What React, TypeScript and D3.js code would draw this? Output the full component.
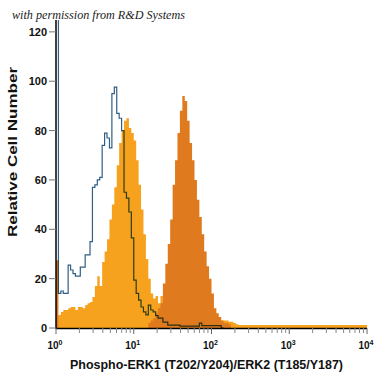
import React from 'react';
import * as d3 from 'd3';

// histogram channels: 32 bins per decade, 10^0 .. 10^4
const binsPerDecade = 32;
const yTicks = [0, 20, 40, 60, 80, 100, 120];
const xDecades = [0, 1, 2, 3, 4];

// open histogram (control), outline only
const controlCounts = [
  140, 14, 15, 14, 14, 25.5, 23.5, 22, 21, 21, 24.7, 24.7, 29.6, 29.6, 35, 57,
  58, 60, 61, 74, 79, 77, 73, 95, 97.6, 87, 85, 80, 55, 52.6, 47, 36.5,
  19.4, 14, 11.3, 8.5, 6.5, 5.3, 9.3, 7.3, 6.5, 5, 4, 4, 2.4, 2.4, 1.2, 1.2,
  1.2, 1.2, 1.2, 0.8, 0.8, 0.8, 0.8, 0.8, 0.8, 0.8, 0.8, 2, 1, 1, 1, 1,
  1, 1, 1, 1, 0,
];

// light orange filled histogram
const untreatedCounts = [
  5, 5.3, 6.5, 7.3, 7.3, 8, 8.5, 8.5, 7.3, 8.5, 8.5, 8, 9.3, 10, 10.5, 12.6,
  17, 21, 17, 26.7, 31, 36, 44, 50, 57, 66, 75, 80, 84, 85, 81, 79,
  76, 68, 58, 48, 38, 28, 20, 14, 12, 13, 10, 13, 11, 8, 7, 6,
  5, 5, 4, 4, 3, 3, 3, 3, 3, 3, 3, 3, 3, 3, 3, 3,
  3, 3, 3, 3, 3, 3, 3, 2.5, 2.5, 2, 1.5, 1.2, 1.2, 1.2, 1.2, 1.2,
  1.2, 1.2, 1.2, 1.2, 1.2, 1.2, 1.2, 1.2, 1.2, 1.2, 1.2, 1.2, 1.2, 1.2, 1.2, 1.2,
  1.2, 1.2, 1.2, 1.2, 1.2, 1.2, 1.2, 1.2, 1.2, 1.2, 1.2, 1.2, 1.2, 1.2, 1.2, 1.2,
  1.2, 1.2, 1.2, 1.2, 1.2, 1.2, 1.2, 1.2, 1.2, 1.2, 1.2, 1.2, 1.2, 1.2, 1.2, 1.2,
];

// dark orange filled histogram
const treatedCounts = [
  27.5, 0, 0, 0, 0, 0, 0, 0, 0, 0, 0, 0, 0, 0, 0, 0,
  0, 0, 0, 0, 0, 0, 0, 0, 0, 0, 0, 0, 0, 0, 0, 0,
  0, 0, 0, 0, 0, 0, 2, 3, 4, 6, 8, 10, 18, 26, 34, 44,
  58, 68, 79, 88, 94, 92, 84, 75, 68, 60, 52, 45, 38, 31, 25, 20,
  14, 8, 6, 4.5, 3, 2, 2, 1.5, 0,
];

const W = 375;
const H = 375;
const left = 56;
const right = 367;
const top = 20;
const bottom = 328;

export default function App() {
  const x = d3.scaleLog().domain([1, 1e4]).range([left, right]);
  const y = d3.scaleLinear().domain([0, 124]).range([bottom, 22]);

  const edge = (i: number) => x(Math.pow(10, i / binsPerDecade));
  const stepPoints = (vals: number[]) => {
    const pts: [number, number][] = vals.map((v, i) => [edge(i), v]);
    pts.push([edge(vals.length), vals[vals.length - 1]]);
    return pts;
  };

  const area = d3.area<[number, number]>()
    .x(d => d[0])
    .y0(y(0))
    .y1(d => y(d[1]))
    .curve(d3.curveStepAfter);
  const line = d3.line<[number, number]>()
    .x(d => d[0])
    .y(d => y(d[1]))
    .curve(d3.curveStepAfter);

  const minorTicks: number[] = [];
  for (let d = 0; d < 4; d++) {
    for (let m = 2; m <= 9; m++) minorTicks.push(m * Math.pow(10, d));
  }

  const tickFont = '"Liberation Sans", Arial, sans-serif';

  return (
    <div style={{ position: 'absolute', left: 0, top: 0 }}>
      <svg width={W} height={H} style={{ display: 'block', background: '#fff' }}>
        <defs>
          <clipPath id="plot">
            <rect x={left} y={top} width={right - left + 1} height={bottom - top} />
          </clipPath>
        </defs>

        <g clipPath="url(#plot)">
          <path d={area(stepPoints(untreatedCounts)) || ''} fill="#F6A21E" />
          <path d={area(stepPoints(treatedCounts)) || ''} fill="#DF7A1E" />
          <path d={line(stepPoints(controlCounts)) || ''} fill="none" stroke="#2f5f86"
            strokeWidth={1.2} style={{ mixBlendMode: 'multiply' }} />
        </g>

        {/* y axis */}
        <line x1={left} x2={left} y1={top} y2={bottom + 1} stroke="#000" strokeWidth={1.5} />
        {yTicks.map(t => (
          <g key={t}>
            <line x1={left - 7} x2={left} y1={y(t)} y2={y(t)} stroke="#777" strokeWidth={1} />
            <text x={left - 9} y={y(t) + 4} textAnchor="end" fontFamily={tickFont}
              fontWeight="bold" fontSize={11} fill="#111">{t}</text>
          </g>
        ))}

        {/* x axis */}
        <line x1={left} x2={right} y1={bottom + 0.5} y2={bottom + 0.5} stroke="#000" strokeWidth={1.5} />
        {minorTicks.map((t, i) => (
          <line key={i} x1={x(t)} x2={x(t)} y1={bottom} y2={bottom + 5} stroke="#888" strokeWidth={1} />
        ))}
        {xDecades.map(d => (
          <g key={d}>
            <line x1={x(Math.pow(10, d))} x2={x(Math.pow(10, d))} y1={bottom} y2={bottom + 6} stroke="#666" strokeWidth={1} />
            <text x={x(Math.pow(10, d)) - 1} y={349} textAnchor="middle" fontFamily={tickFont}
              fontWeight="bold" fontSize={10} fill="#111">
              10<tspan dy={-4} fontSize={7}>{d}</tspan>
            </text>
          </g>
        ))}

        <text x={70} y={369} fontFamily={tickFont} fontWeight="bold" fontSize={13.5}
          textLength={273} lengthAdjust="spacingAndGlyphs" fill="#111">
          Phospho-ERK1 (T202/Y204)/ERK2 (T185/Y187)
        </text>
        <text transform={`translate(17,152) rotate(-90)`} textAnchor="middle" fontFamily={tickFont}
          fontWeight="bold" fontSize={12.5} textLength={170} lengthAdjust="spacingAndGlyphs" fill="#111">
          Relative Cell Number
        </text>

        <text x={12} y={19} fontFamily='"Liberation Serif", "DejaVu Serif", serif' fontStyle="italic"
          fontSize={13} textLength={173} lengthAdjust="spacingAndGlyphs" fill="#222">
          with permission from R&amp;D Systems
        </text>
      </svg>
    </div>
  );
}
